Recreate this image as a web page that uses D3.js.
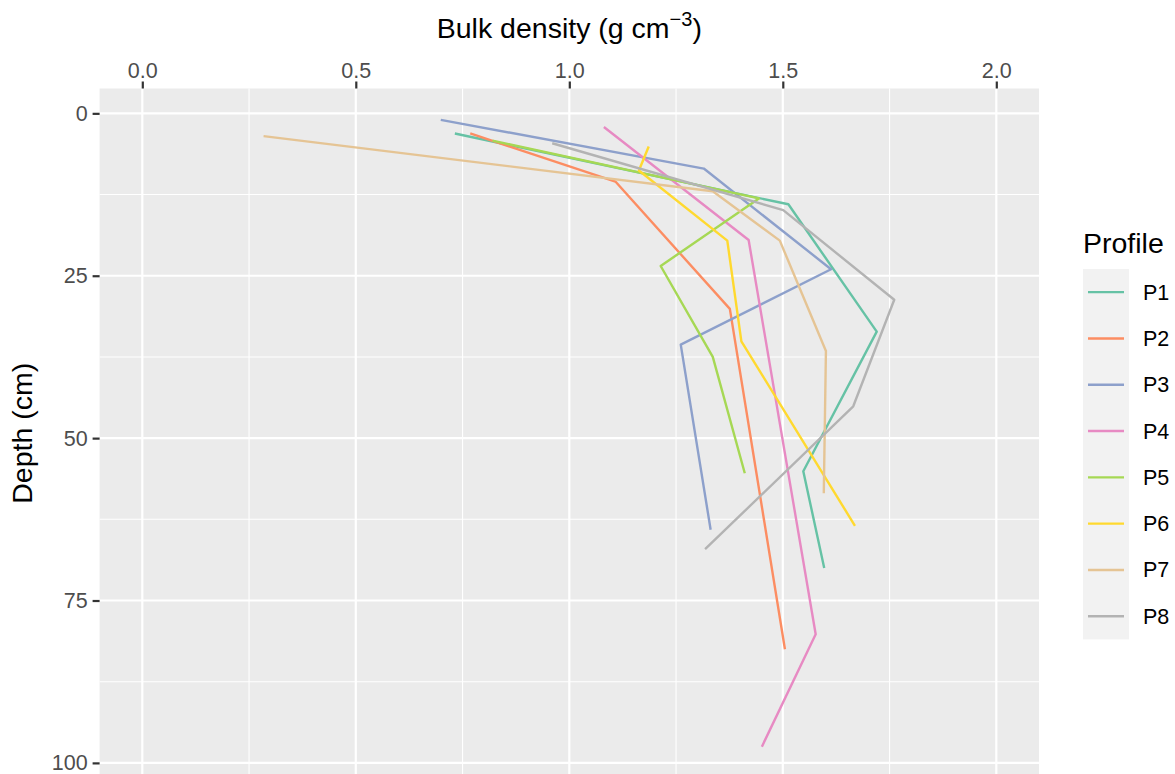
<!DOCTYPE html>
<html>
<head>
<meta charset="utf-8">
<script src="https://cdn.jsdelivr.net/npm/d3@7"></script>
<style>
  body { margin: 0; background: #ffffff; }
  svg { display: block; }
  text { font-family: "Liberation Sans", Arial, Helvetica, sans-serif; }
</style>
</head>
<body>
<svg id="chart" width="1175" height="774"></svg>
<script>
// Soil profiles and their colours (ColorBrewer Set2)
const profiles = ["P1", "P2", "P3", "P4", "P5", "P6", "P7", "P8"];
const profileColors = ["#66C2A5", "#FC8D62", "#8DA0CB", "#E78AC3", "#A6D854", "#FFD92F", "#E5C494", "#B3B3B3"];

// Axis breaks
const densityTicks = [0, 0.5, 1.0, 1.5, 2.0];
const densityMinor = [0.25, 0.75, 1.25, 1.75];
const depthTicks = [0, 25, 50, 75, 100];
const depthMinor = [12.5, 37.5, 62.5, 87.5];
const densityLimits = [0, 2];

// Bulk density (g cm-3) by sampling depth (cm) for each profile
const densityP1 = [0.732, 1.513, 1.720, 1.548, 1.597];
const depthP1   = [3.1, 14.0, 33.6, 55.1, 70.0];
const densityP2 = [0.768, 1.108, 1.376, 1.505];
const depthP2   = [3.1, 10.5, 30.1, 82.5];
const densityP3 = [0.699, 1.315, 1.613, 1.261, 1.331];
const depthP3   = [1.0, 8.5, 24.0, 35.6, 64.1];
const densityP4 = [1.081, 1.420, 1.577, 1.451];
const depthP4   = [2.1, 19.5, 80.2, 97.5];
const densityP5 = [0.820, 1.444, 1.214, 1.336, 1.411];
const depthP5   = [4.2, 13.1, 23.5, 37.5, 55.4];
const densityP6 = [1.186, 1.163, 1.370, 1.403, 1.669];
const depthP6   = [5.1, 8.8, 19.6, 35.1, 63.5];
const densityP7 = [0.284, 1.336, 1.493, 1.601, 1.596];
const depthP7   = [3.5, 12.0, 19.6, 36.6, 58.5];
const densityP8 = [0.960, 1.501, 1.761, 1.665, 1.318];
const depthP8   = [4.6, 14.9, 28.7, 45.1, 67.1];

const densities = [densityP1, densityP2, densityP3, densityP4, densityP5, densityP6, densityP7, densityP8];
const depths = [depthP1, depthP2, depthP3, depthP4, depthP5, depthP6, depthP7, depthP8];

const series = profiles.map((p, i) => ({
  name: p,
  color: profileColors[i],
  points: densities[i].map((d, j) => ({ density: d, depth: depths[i][j] }))
}));

// Layout
const panel = { left: 99.6, right: 1039, top: 88.5, bottom: 778 };

function expand(lo, hi, f) { const r = hi - lo; return [lo - r * f, hi + r * f]; }

const allDepths = depths.flat();
const x = d3.scaleLinear()
  .domain(expand(densityLimits[0], densityLimits[1], 0.05))
  .range([panel.left, panel.right]);
const y = d3.scaleLinear()
  .domain(expand(d3.min(allDepths), d3.max(allDepths), 0.05))
  .range([panel.top, panel.bottom]);

const svg = d3.select("#chart");

// Panel background
svg.append("rect")
  .attr("x", panel.left).attr("y", panel.top)
  .attr("width", panel.right - panel.left).attr("height", panel.bottom - panel.top)
  .attr("fill", "#EBEBEB");

const grid = svg.append("g");
// minor grid
grid.selectAll("line.vminor").data(densityMinor).join("line")
  .attr("x1", d => x(d)).attr("x2", d => x(d))
  .attr("y1", panel.top).attr("y2", panel.bottom)
  .attr("stroke", "#ffffff").attr("stroke-width", 1.1);
grid.selectAll("line.hminor").data(depthMinor).join("line")
  .attr("y1", d => y(d)).attr("y2", d => y(d))
  .attr("x1", panel.left).attr("x2", panel.right)
  .attr("stroke", "#ffffff").attr("stroke-width", 1.1);
// major grid
grid.selectAll("line.vmajor").data(densityTicks).join("line")
  .attr("x1", d => x(d)).attr("x2", d => x(d))
  .attr("y1", panel.top).attr("y2", panel.bottom)
  .attr("stroke", "#ffffff").attr("stroke-width", 2.2);
grid.selectAll("line.hmajor").data(depthTicks).join("line")
  .attr("y1", d => y(d)).attr("y2", d => y(d))
  .attr("x1", panel.left).attr("x2", panel.right)
  .attr("stroke", "#ffffff").attr("stroke-width", 2.2);

// Profile lines
const line = d3.line().x(d => x(d.density)).y(d => y(d.depth));
svg.append("g").selectAll("path").data(series).join("path")
  .attr("d", d => line(d.points))
  .attr("fill", "none")
  .attr("stroke", d => d.color)
  .attr("stroke-width", 2.4)
  .attr("stroke-linejoin", "round")
  .attr("stroke-linecap", "butt");

// Top axis (bulk density)
const xAxis = svg.append("g")
  .attr("transform", `translate(0,${panel.top})`)
  .call(d3.axisTop(x).tickValues(densityTicks).tickFormat(d3.format(".1f")).tickSize(7).tickPadding(4));
xAxis.select(".domain").remove();
xAxis.selectAll(".tick line").attr("stroke", "#333333").attr("stroke-width", 2.2);
xAxis.selectAll(".tick text").attr("fill", "#4D4D4D").attr("font-size", 21.5).attr("font-family", null);

// Left axis (depth)
const yAxis = svg.append("g")
  .attr("transform", `translate(${panel.left},0)`)
  .call(d3.axisLeft(y).tickValues(depthTicks).tickFormat(d3.format("d")).tickSize(7).tickPadding(5));
yAxis.select(".domain").remove();
yAxis.selectAll(".tick line").attr("stroke", "#333333").attr("stroke-width", 2.2);
yAxis.selectAll(".tick text").attr("fill", "#4D4D4D").attr("font-size", 21.5).attr("font-family", null);

// Axis titles
const xTitle = svg.append("text")
  .attr("x", (panel.left + panel.right) / 2).attr("y", 38)
  .attr("text-anchor", "middle").attr("font-size", 28.5).attr("fill", "#000");
xTitle.append("tspan").text("Bulk density (g cm");
xTitle.append("tspan").attr("font-size", 20).attr("dy", -12).text("\u22123");
xTitle.append("tspan").attr("dy", 12).text(")");

svg.append("text")
  .attr("transform", `translate(32,${(panel.top + panel.bottom) / 2}) rotate(-90)`)
  .attr("text-anchor", "middle").attr("font-size", 28.5).attr("fill", "#000")
  .text("Depth (cm)");

// Legend
const legend = { x: 1083, y: 269, key: 46.3, keyW: 46 };
svg.append("text")
  .attr("x", legend.x).attr("y", 253)
  .attr("font-size", 28.5).attr("fill", "#000")
  .text("Profile");
const lg = svg.append("g");
lg.append("rect")
  .attr("x", legend.x).attr("y", legend.y)
  .attr("width", legend.keyW).attr("height", legend.key * series.length)
  .attr("fill", "#F2F2F2");
const items = lg.selectAll("g.item").data(series).join("g")
  .attr("transform", (d, i) => `translate(0,${legend.y + legend.key * (i + 0.5)})`);
items.append("line")
  .attr("x1", legend.x + 5).attr("x2", legend.x + 41)
  .attr("y1", 0).attr("y2", 0)
  .attr("stroke", d => d.color).attr("stroke-width", 2.4);
items.append("text")
  .attr("x", 1143).attr("y", 0).attr("dy", "0.35em")
  .attr("font-size", 21.5).attr("fill", "#000")
  .text(d => d.name);
</script>
</body>
</html>
